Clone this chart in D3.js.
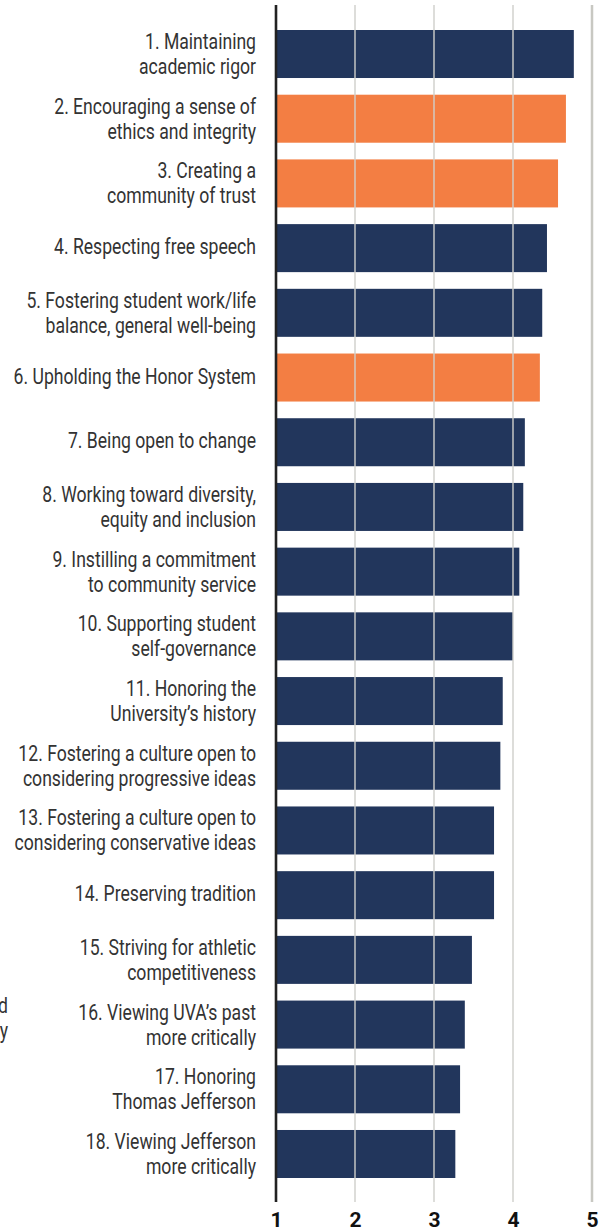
<!DOCTYPE html>
<html>
<head>
<meta charset="utf-8">
<script src="https://cdn.jsdelivr.net/npm/d3@7"></script>
<style>
  html, body { margin: 0; padding: 0; background: #fff; }
  svg { display: block; }
</style>
</head>
<body>
<svg id="chart" width="603" height="1232"></svg>
<script>
// Priorities, ranked by mean rating (1–5 scale)
const categories = [
  "1. Maintaining\nacademic rigor",
  "2. Encouraging a sense of\nethics and integrity",
  "3. Creating a\ncommunity of trust",
  "4. Respecting free speech",
  "5. Fostering student work/life\nbalance, general well-being",
  "6. Upholding the Honor System",
  "7. Being open to change",
  "8. Working toward diversity,\nequity and inclusion",
  "9. Instilling a commitment\nto community service",
  "10. Supporting student\nself-governance",
  "11. Honoring the\nUniversity\u2019s history",
  "12. Fostering a culture open to\nconsidering progressive ideas",
  "13. Fostering a culture open to\nconsidering conservative ideas",
  "14. Preserving tradition",
  "15. Striving for athletic\ncompetitiveness",
  "16. Viewing UVA\u2019s past\nmore critically",
  "17. Honoring\nThomas Jefferson",
  "18. Viewing Jefferson\nmore critically"
];
const ratings = [4.77, 4.67, 4.57, 4.43, 4.37, 4.34, 4.15, 4.13, 4.08, 4.00,
                 3.87, 3.84, 3.76, 3.76, 3.48, 3.39, 3.33, 3.27];
// Items tied to the honor/trust theme are highlighted
const highlighted = [false, true, true, false, false, true, false, false, false,
                     false, false, false, false, false, false, false, false, false];
const tickValues = [1, 2, 3, 4, 5];

const NAVY = "#22365c";
const ORANGE = "#f37e43";
const FONT = "Roboto, 'Liberation Sans', sans-serif";

const svg = d3.select("#chart");

const x = d3.scaleLinear().domain([1, 5]).range([276, 592]);
const y = d3.scaleBand()
  .domain(categories)
  .range([30, 1178])
  .paddingInner(0.258)
  .paddingOuter(0);

const gridTop = 5, gridBottom = 1202;

// Bars
svg.append("g")
  .selectAll("rect")
  .data(categories)
  .join("rect")
  .attr("x", x(1))
  .attr("y", d => y(d))
  .attr("width", (d, i) => x(ratings[i]) - x(1))
  .attr("height", y.bandwidth())
  .attr("fill", (d, i) => highlighted[i] ? ORANGE : NAVY);

// Vertical gridlines drawn over the bars
svg.append("g")
  .selectAll("line")
  .data(tickValues.filter(v => v > 1))
  .join("line")
  .attr("x1", d => x(d)).attr("x2", d => x(d))
  .attr("y1", gridTop).attr("y2", gridBottom)
  .attr("stroke", d => d === 5 ? "#c8c8c2" : "#cfcfcb")
  .attr("stroke-width", d => d === 5 ? 2.5 : 1.4);

// Baseline axis at 1
svg.append("line")
  .attr("x1", x(1)).attr("x2", x(1))
  .attr("y1", gridTop).attr("y2", gridBottom)
  .attr("stroke", "#222")
  .attr("stroke-width", 2.6);

// Bottom tick labels via d3 axis
const axis = d3.axisBottom(x).tickValues(tickValues).tickSize(0).tickPadding(0)
  .tickFormat(d3.format("d"));
const axisG = svg.append("g")
  .attr("transform", `translate(0, ${gridBottom})`)
  .call(axis);
axisG.select(".domain").remove();
axisG.selectAll("text")
  .attr("dy", null)
  .attr("y", 25)
  .attr("fill", "#111")
  .style("font-family", FONT)
  .style("font-weight", "700")
  .style("font-size", "21px");

// Category labels (condensed look via horizontal scaling)
const labelRight = 256;
const sx = 0.80;
const labels = svg.append("g")
  .attr("transform", `translate(${labelRight},0) scale(${sx},1)`)
  .style("font-family", FONT)
  .style("font-size", "22px")
  .attr("fill", "#333")
  .attr("text-anchor", "end");

categories.forEach(c => {
  const lines = c.split("\n");
  const cy = y(c) + y.bandwidth() / 2;
  const t = labels.append("text");
  lines.forEach((ln, k) => {
    const base = lines.length === 1 ? cy + 6 : cy - 5 + k * 25;
    t.append("tspan").attr("x", 0).attr("y", base).text(ln);
  });
});

// Fragment of a side note running in from the left edge
const note = svg.append("g")
  .attr("transform", `translate(8,0) scale(${sx},1)`)
  .style("font-family", FONT)
  .style("font-size", "22px")
  .attr("fill", "#333")
  .attr("text-anchor", "end");
note.append("text").attr("x", 0).attr("y", 1013).text("d");
note.append("text").attr("x", 0).attr("y", 1038).text("y");
</script>
</body>
</html>
